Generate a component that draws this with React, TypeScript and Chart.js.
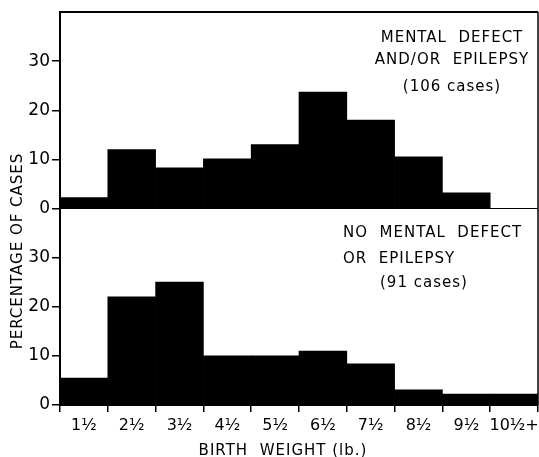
import React, { useEffect, useRef } from 'react';
import { Chart, registerables } from 'chart.js';

Chart.register(...registerables);

const categories = ['1½', '2½', '3½', '4½', '5½', '6½', '7½', '8½', '9½', '10½+'];
const mentalDefectPct = [2.2, 12, 8.3, 10.1, 13, 23.7, 18, 10.5, 3.2, 0];
const noMentalDefectPct = [5.5, 22, 25, 10, 10, 11, 8.4, 3.1, 2.2, 2.2];
const yTickValues = [0, 10, 20, 30];
const topPanelLines = ['MENTAL  DEFECT', 'AND/OR  EPILEPSY', '(106 cases)'];
const bottomPanelLines = ['NO  MENTAL  DEFECT', 'OR  EPILEPSY', '(91 cases)'];
const xTitle = 'BIRTH  WEIGHT (lb.)';
const yTitle = 'PERCENTAGE OF CASES';

const FONT = '"DejaVu Sans", sans-serif';

const decorPlugin = {
  id: 'decor',
  afterDraw(chart: any) {
    const { ctx, chartArea } = chart;
    const yTop = chart.scales.yTop;
    ctx.save();
    ctx.strokeStyle = '#000';
    ctx.lineWidth = 2;
    ctx.beginPath();
    ctx.moveTo(chartArea.left, chartArea.top);
    ctx.lineTo(chartArea.right, chartArea.top);
    ctx.stroke();
    ctx.lineWidth = 1.5;
    ctx.beginPath();
    ctx.moveTo(chartArea.right, chartArea.top);
    ctx.lineTo(chartArea.right, chartArea.bottom);
    ctx.stroke();
    const midY = yTop.getPixelForValue(0);
    ctx.lineWidth = 1;
    ctx.beginPath();
    ctx.moveTo(chartArea.left, midY);
    ctx.lineTo(chartArea.right, midY);
    ctx.stroke();

    ctx.fillStyle = '#000';
    ctx.font = `15px ${FONT}`;
    (ctx as any).letterSpacing = '1px';
    ctx.textBaseline = 'alphabetic';
    ctx.textAlign = 'center';
    const topBase = [42, 64, 91];
    topPanelLines.forEach((t, i) => ctx.fillText(t, 452, topBase[i]));
    ctx.textAlign = 'left';
    const botX = [343, 343, 380];
    const botBase = [237, 263, 287];
    bottomPanelLines.forEach((t, i) => ctx.fillText(t, botX[i], botBase[i]));
    ctx.textAlign = 'center';
    ctx.fillText(xTitle, 283, 455);
    ctx.translate(18, 251);
    ctx.rotate(-Math.PI / 2);
    ctx.textBaseline = 'middle';
    ctx.fillText(yTitle, 0, 0);
    ctx.restore();
  },
};

function yScale(stackWeight: number) {
  return {
    type: 'linear',
    position: 'left',
    stack: 'panels',
    stackWeight,
    min: 0,
    max: 40,
    afterBuildTicks: (s: any) => {
      s.ticks = yTickValues.map((v) => ({ value: v }));
    },
    afterFit: (s: any) => {
      s.width = 60;
      s.paddingTop = 0;
      s.paddingBottom = 0;
    },
    grid: {
      drawOnChartArea: false,
      drawTicks: true,
      tickLength: 8,
      color: '#000',
      lineWidth: 1.5,
    },
    border: { color: '#000', width: 2 },
    ticks: {
      color: '#000',
      padding: 2,
      font: { family: FONT, size: 17 },
    },
  };
}

export default function App() {
  const ref = useRef<HTMLCanvasElement>(null);

  useEffect(() => {
    if (!ref.current) return;
    const chart = new Chart(ref.current, {
      type: 'bar',
      data: {
        labels: categories,
        datasets: [
          {
            label: 'Mental defect and/or epilepsy',
            data: mentalDefectPct,
            yAxisID: 'yTop',
            backgroundColor: '#000',
            borderWidth: 0,
            barPercentage: 1,
            categoryPercentage: 1,
            grouped: false,
          },
          {
            label: 'No mental defect or epilepsy',
            data: noMentalDefectPct,
            yAxisID: 'yBot',
            backgroundColor: '#000',
            borderWidth: 0,
            barPercentage: 1,
            categoryPercentage: 1,
            grouped: false,
          },
        ],
      },
      options: {
        responsive: false,
        animation: false,
        layout: { padding: { top: 12, right: 1, left: 0, bottom: 0 } },
        plugins: {
          legend: { display: false },
          tooltip: { enabled: false },
          title: { display: false },
        },
        scales: {
          x: {
            type: 'category',
            offset: true,
            afterFit: (s: any) => {
              s.height = 52;
              s.paddingLeft = 0;
              s.paddingRight = 0;
            },
            grid: {
              offset: true,
              drawOnChartArea: false,
              drawTicks: true,
              tickLength: 7,
              color: '#000',
              lineWidth: 1.5,
            },
            border: { color: '#000', width: 2 },
            ticks: {
              color: '#000',
              padding: 4,
              maxRotation: 0,
              autoSkip: false,
              font: { family: FONT, size: 16 },
            },
          },
          yBot: yScale(1),
          yTop: yScale(1),
        } as any,
      },
      plugins: [decorPlugin],
    });
    return () => chart.destroy();
  }, []);

  return (
    <div style={{ position: 'fixed', left: 0, top: 0, width: 539, height: 457, background: '#fff' }}>
      <canvas ref={ref} width={539} height={457} />
    </div>
  );
}
